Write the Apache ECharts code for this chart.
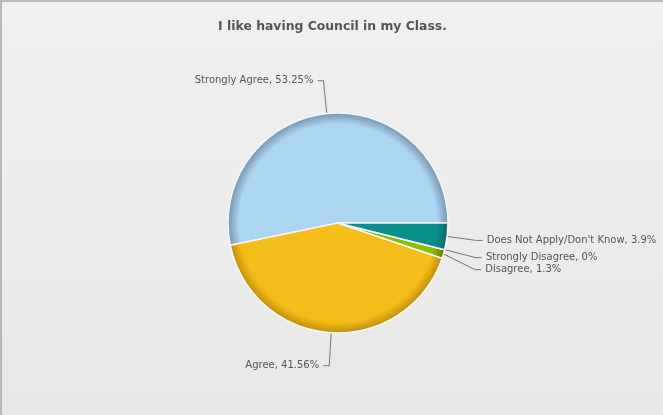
<!DOCTYPE html>
<html><head><meta charset="utf-8">
<script src="https://cdn.jsdelivr.net/npm/echarts@6/dist/echarts.min.js"></script>
<style>
html,body{margin:0;padding:0;overflow:hidden;}
#c{width:663px;height:415px;box-sizing:border-box;border-top:2px solid #b8b8b8;border-left:2px solid #b8b8b8;background:linear-gradient(#f0f0f0,#e8e8e8);}
</style></head>
<body><div id="c"></div>
<script>
const title = "I like having Council in my Class.";
const categories = ["Strongly Agree", "Agree", "Disagree", "Strongly Disagree", "Does Not Apply/Don't Know"];
const values = [53.25, 41.56, 1.3, 0, 3.9];
const colors = ["#acd4f3", "#f5bd1a", "#8dbb08", "#c0c0c0", "#0b8f8d"];
const edgeColors = ["#7896ae", "#c08e0c", "#5f8004", "#909090", "#086a68"];

const chart = echarts.init(document.getElementById('c'));
const cx = 336, cy = 221, R = 110;
chart.setOption({
  animation: false,
  title: {text: title, left: 'center', top: 14,
    textStyle: {fontFamily: 'DejaVu Sans', fontSize: 12.4, fontWeight: 'bold', color: '#555'}},
  series: [{
    type: 'pie',
    center: [cx, cy], radius: R,
    startAngle: 0, clockwise: false,
    minShowLabelAngle: -1,
    stillShowZeroSum: true,
    avoidLabelOverlap: true,
    data: categories.map((n, i) => ({
      name: n, value: values[i],
      itemStyle: {color: {type: 'radial', x: cx, y: cy, r: R, global: true,
        colorStops: [{offset: 0, color: colors[i]}, {offset: 0.9, color: colors[i]}, {offset: 1, color: edgeColors[i]}]}}
    })),
    itemStyle: {borderColor: '#f6f6f6', borderWidth: 1.5},
    label: {formatter: p => p.name + ', ' + p.value + '%', fontFamily: 'DejaVu Sans', fontSize: 10, color: '#555',
      distanceToLabelLine: 4, overflow: 'none'},
    labelLine: {length: 33, length2: 6, lineStyle: {color: '#777', width: 1}},
    emphasis: {disabled: true}
  }]
});
</script></body></html>
